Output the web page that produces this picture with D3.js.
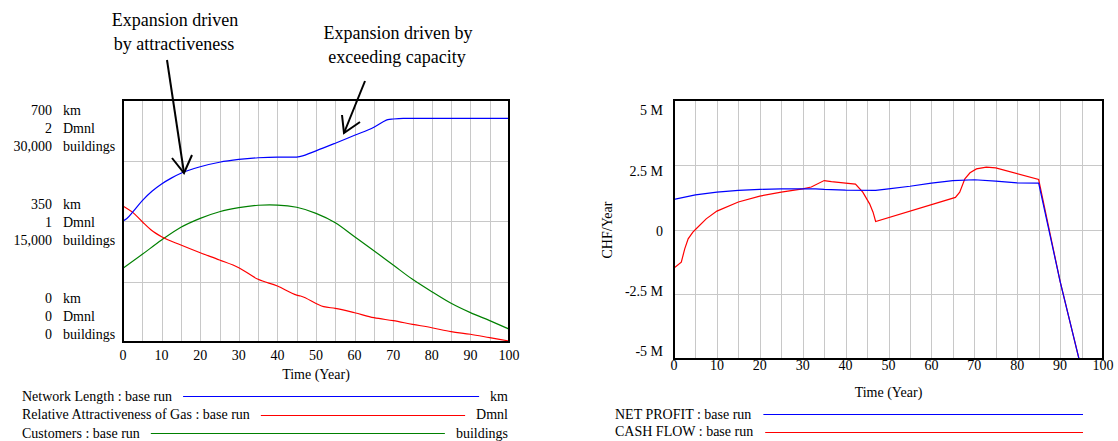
<!DOCTYPE html>
<html><head><meta charset="utf-8">
<script src="https://cdn.jsdelivr.net/npm/d3@7"></script>
<style>body{margin:0;background:#fff}svg{display:block}text{font-family:"Liberation Serif","Times New Roman",serif;fill:#000}</style>
</head><body>
<svg id="c" width="1118" height="441"></svg>
<script>
// ---- data (left chart) ----
const networkLength = [[0,350],[1,357],[2.6,377],[5,409],[7.5,436],[10,457],[12.5,474],[15,488],[20,507],[25,520],[30,528],[35,533],[40,535],[45,535],[46,537],[50,553],[55,575],[60,598],[65,621],[67.4,637],[68.6,643],[70,645],[72.6,647],[100,647]];
const relAttractiveness = [[0,1.124],[2.6,1.069],[5,0.994],[7.3,0.926],[10,0.870],[15,0.802],[20,0.738],[25,0.678],[30,0.614],[35,0.518],[40,0.463],[45,0.388],[46,0.38],[52,0.292],[55,0.278],[60,0.242],[65,0.201],[70,0.176],[75,0.146],[80,0.118],[85,0.085],[90,0.064],[95,0.036],[100,0.008]];
const customers = [[0,9130],[5,10870],[10,12640],[15,14220],[20,15330],[25,16150],[30,16650],[35,16950],[38,17000],[40,16980],[45,16700],[50,15950],[55,14790],[60,13060],[65,11320],[70,9545],[75,7770],[80,6240],[85,4800],[90,3640],[95,2650],[100,1610]];
const leftTickValues = [0, 0.5, 1];
const kmTicks = ["0","350","700"];
const dmnlTicks = ["0","1","2"];
const bldTicks = ["0","15,000","30,000"];
// ---- data (right chart, M CHF/Year) ----
const netProfit = [[0,1.16],[5,1.34],[10,1.44],[15,1.51],[20,1.55],[25,1.57],[30,1.57],[33,1.57],[35,1.55],[40,1.52],[47,1.51],[50,1.57],[55,1.67],[60,1.79],[65,1.89],[70,1.92],[75,1.87],[80,1.80],[85,1.79],[90,-2.0],[95,-5.4]];
const cashFlow = [[0,-1.49],[1.7,-1.26],[2.5,-0.75],[3.3,-0.36],[4.4,-0.1],[5,0.0],[7.5,0.41],[10,0.71],[15,1.06],[20,1.29],[25,1.44],[30,1.57],[32,1.64],[35,1.89],[36.7,1.85],[40,1.79],[42.3,1.75],[44,1.44],[45.6,0.99],[46.4,0.67],[47,0.31],[65.6,1.24],[66.6,1.44],[67.8,1.96],[69,2.19],[70.5,2.34],[72.8,2.41],[75,2.38],[85,1.93],[90,-2.0],[95,-5.4]];
const rightTicks = [-5,-2.5,0,2.5,5];
const rightTickLabels = ["-5 M","-2.5 M","0","2.5 M","5 M"];
const xTicks = [0,10,20,30,40,50,60,70,80,90,100];

const svg = d3.select("#c");
const FS = 14;

function frame(g, x, y, tickY, titleY){
  const [x0,x1]=x.range(), [y1,y0]=y.range();
  const gl = g.append("g").attr("stroke","#c8c8c8").attr("stroke-width",1);
  d3.range(5,100,5).forEach(t=>gl.append("line").attr("x1",Math.round(x(t))+0.5).attr("x2",Math.round(x(t))+0.5).attr("y1",y0).attr("y2",y1));
  [0.25,0.5,0.75].forEach(f=>{const yy=Math.round(y0+(y1-y0)*f)+0.5; gl.append("line").attr("x1",x0).attr("x2",x1).attr("y1",yy).attr("y2",yy);});
  g.append("g").selectAll("text").data(xTicks).join("text")
    .attr("x",d=>x(d)).attr("y",tickY).attr("dy","0.35em").attr("text-anchor","middle").attr("font-size",FS).text(d=>d);
  g.append("text").attr("x",(x0+x1)/2).attr("y",titleY).attr("dy","0.35em").attr("text-anchor","middle").attr("font-size",FS).text("Time (Year)");
}
function border(g,x,y){
  const [x0,x1]=x.range(), [y1,y0]=y.range();
  g.append("rect").attr("x",x0).attr("y",y0).attr("width",x1-x0).attr("height",y1-y0).attr("fill","none").attr("stroke","#000").attr("stroke-width",2);
}

// ---------- LEFT ----------
const L = svg.append("g");
const xL = d3.scaleLinear().domain([0,100]).range([123,509]);
const yKm = d3.scaleLinear().domain([0,700]).range([342,100]);
const yDm = d3.scaleLinear().domain([0,2]).range([342,100]);
const yBd = d3.scaleLinear().domain([0,30000]).range([342,100]);
frame(L,xL,yKm,355,374);
svg.append("clipPath").attr("id","clipL").append("rect").attr("x",123).attr("y",100).attr("width",386).attr("height",242);
const lineL = (ys)=>d3.line().x(d=>xL(d[0])).y(d=>ys(d[1])).curve(d3.curveMonotoneX);
const pl = L.append("g").attr("clip-path","url(#clipL)").attr("fill","none").attr("stroke-width",1.2);
pl.append("path").datum(customers).attr("d",lineL(yBd)).attr("stroke","#008000");
pl.append("path").datum(relAttractiveness).attr("d",lineL(yDm)).attr("stroke","#ff0000");
pl.append("path").datum(networkLength).attr("d",lineL(yKm)).attr("stroke","#0000ff");
border(L,xL,yKm);
// left y labels (compressed label placement)
const labY = d3.scaleLinear().domain([0,1]).range([316,128]);
leftTickValues.forEach((f,i)=>{
  const c = labY(f);
  [[kmTicks[i],"km",-18],[dmnlTicks[i],"Dmnl",0],[bldTicks[i],"buildings",18]].forEach(([n,u,o])=>{
    L.append("text").attr("x",52).attr("y",c+o).attr("dy","0.35em").attr("text-anchor","end").attr("font-size",FS).text(n);
    L.append("text").attr("x",63).attr("y",c+o).attr("dy","0.35em").attr("font-size",FS).text(u);
  });
});
// left legend
const legL = [["Network Length : base run","km","#0000ff",396],["Relative Attractiveness of Gas : base run","Dmnl","#ff0000",414.5],["Customers : base run","buildings","#008000",433]];
legL.forEach(([t,u,c,yy])=>{
  const a = L.append("text").attr("x",22).attr("y",yy).attr("dy","0.35em").attr("font-size",FS).text(t);
  const b = L.append("text").attr("x",508).attr("y",yy).attr("dy","0.35em").attr("text-anchor","end").attr("font-size",FS).text(u);
  const e = 22 + a.node().getComputedTextLength() + 11;
  const s = 508 - b.node().getComputedTextLength() - 11;
  L.append("line").attr("x1",e).attr("x2",s).attr("y1",Math.round(yy)+0.5).attr("y2",Math.round(yy)+0.5).attr("stroke",c).attr("stroke-width",1);
});
// annotations
const ann = L.append("g");
[["Expansion driven",175,20],["by attractiveness",174,44],["Expansion driven by",398,33],["exceeding capacity",397,57]].forEach(([t,x,y])=>
  ann.append("text").attr("x",x).attr("y",y).attr("dy","0.35em").attr("text-anchor","middle").attr("font-size",18).text(t));
const ag = ann.append("g").attr("stroke","#000").attr("stroke-width",2).attr("fill","none");
ag.append("line").attr("x1",167).attr("y1",60).attr("x2",184).attr("y2",173);
ag.append("path").attr("d","M172,158 L184,173 L192,155");
ag.append("line").attr("x1",365).attr("y1",81).attr("x2",344).attr("y2",133);
ag.append("path").attr("d","M342,115 L344,133 L360,122");

// ---------- RIGHT ----------
const R = svg.append("g");
const xR = d3.scaleLinear().domain([0,100]).range([674,1103]);
const yR = d3.scaleLinear().domain([-5,5]).range([359,100]);
frame(R,xR,yR,365,392);
svg.append("clipPath").attr("id","clipR").append("rect").attr("x",674).attr("y",100).attr("width",429).attr("height",259);
const lineR = d3.line().x(d=>xR(d[0])).y(d=>yR(d[1]));
const pr = R.append("g").attr("clip-path","url(#clipR)").attr("fill","none").attr("stroke-width",1.2);
pr.append("path").datum(cashFlow).attr("d",lineR).attr("stroke","#ff0000");
pr.append("path").datum(netProfit).attr("d",lineR).attr("stroke","#0000ff");
border(R,xR,yR);
const labR = d3.scaleLinear().domain([-5,5]).range([351.5,110.5]);
R.append("g").selectAll("text").data(rightTicks).join("text")
  .attr("x",663).attr("y",d=>labR(d)).attr("dy","0.35em").attr("text-anchor","end").attr("font-size",FS)
  .text((d,i)=>rightTickLabels[i]);
R.append("text").attr("transform","translate(607,230) rotate(-90)").attr("dy","0.35em").attr("text-anchor","middle").attr("font-size",FS).text("CHF/Year");
const legR = [["NET PROFIT : base run","#0000ff",414],["CASH FLOW : base run","#ff0000",431.5]];
legR.forEach(([t,c,yy])=>{
  const a = R.append("text").attr("x",615).attr("y",yy).attr("dy","0.35em").attr("font-size",FS).text(t);
  const e = 615 + a.node().getComputedTextLength() + 12;
  R.append("line").attr("x1",e).attr("x2",1083).attr("y1",Math.round(yy)+0.5).attr("y2",Math.round(yy)+0.5).attr("stroke",c).attr("stroke-width",1);
});
</script>
</body></html>
